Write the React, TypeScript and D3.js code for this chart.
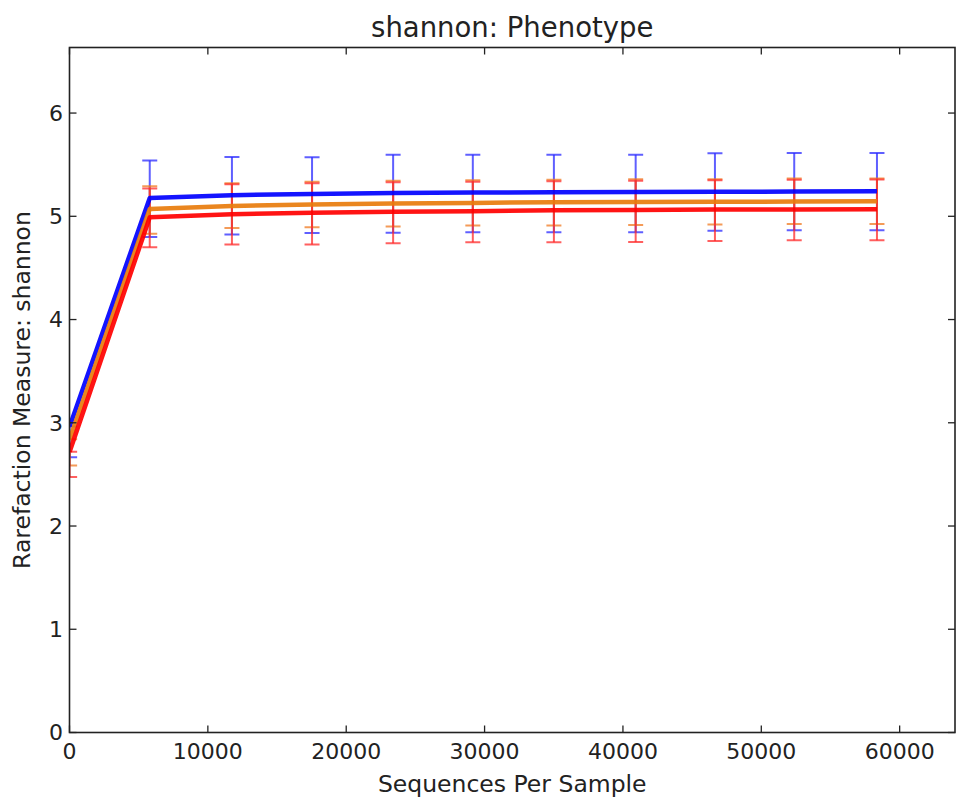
import React from "react";
import * as d3 from "d3";

const seqPerSample = [10, 5800, 11740, 17530, 23390, 29150, 35010, 40920, 46650, 52380, 58360];

const blueMean = [2.965, 5.178, 5.205, 5.215, 5.225, 5.23, 5.233, 5.235, 5.237, 5.24, 5.242];
const blueUpper = [2.965, 5.54, 5.575, 5.572, 5.595, 5.595, 5.595, 5.595, 5.61, 5.614, 5.614];
const blueLower = [2.665, 4.8, 4.823, 4.839, 4.84, 4.845, 4.845, 4.845, 4.86, 4.864, 4.864];

const orangeMean = [2.84, 5.07, 5.1, 5.115, 5.125, 5.13, 5.136, 5.138, 5.14, 5.143, 5.145];
const orangeUpper = [2.84, 5.29, 5.32, 5.335, 5.345, 5.35, 5.355, 5.36, 5.36, 5.365, 5.365];
const orangeLower = [2.587, 4.83, 4.887, 4.895, 4.9, 4.91, 4.91, 4.915, 4.92, 4.926, 4.926];

const redMean = [2.72, 4.99, 5.02, 5.035, 5.045, 5.05, 5.058, 5.062, 5.065, 5.067, 5.068];
const redUpper = [2.72, 5.27, 5.31, 5.32, 5.33, 5.335, 5.34, 5.345, 5.35, 5.355, 5.356];
const redLower = [2.475, 4.7, 4.726, 4.726, 4.74, 4.749, 4.749, 4.75, 4.76, 4.767, 4.767];

const xTicks = [0, 10000, 20000, 30000, 40000, 50000, 60000];
const yTicks = [0, 1, 2, 3, 4, 5, 6];

const series = [
  { name: "blue", color: "#0000ff", capColor: "#2a2aff", mean: blueMean, upper: blueUpper, lower: blueLower },
  { name: "orange", color: "#e87c0c", capColor: "#f07a20", mean: orangeMean, upper: orangeUpper, lower: orangeLower },
  { name: "red", color: "#ff0000", capColor: "#ff2a2a", mean: redMean, upper: redUpper, lower: redLower },
];

const W = 956;
const H = 804;
const L = 69.5;
const R = 955;
const T = 47.5;
const B = 732.5;
const FONT = "'DejaVu Sans', sans-serif";

export default function App() {
  const x = d3.scaleLinear().domain([0, 64000]).range([L, R]);
  const y = d3.scaleLinear().domain([0, 6.635]).range([B, T]);
  const line = d3
    .line<number>()
    .x((_, i) => x(seqPerSample[i]))
    .y((d) => y(d));
  const cap = 7.5;
  const tickLen = 7;

  React.useEffect(() => {
    document.body.style.margin = "0";
  }, []);

  return (
    <svg width={W} height={H} style={{ position: "absolute", left: 0, top: 0, background: "#fff" }} fontFamily={FONT}>
      <defs>
        <clipPath id="plotclip">
          <rect x={L} y={T} width={R - L} height={B - T} />
        </clipPath>
      </defs>
      <rect x={0} y={0} width={W} height={H} fill="#fff" />
      <g clipPath="url(#plotclip)">
        {series.map((s) => (
          <g key={s.name + "-err"} stroke={s.capColor} strokeOpacity={0.75} strokeWidth={2} fill="none">
            {seqPerSample.map((sx, i) => {
              const cx = x(sx);
              return (
                <g key={i}>
                  <line x1={cx} x2={cx} y1={y(s.upper[i])} y2={y(s.lower[i])} />
                  <line x1={cx - cap} x2={cx + cap} y1={y(s.upper[i])} y2={y(s.upper[i])} />
                  <line x1={cx - cap} x2={cx + cap} y1={y(s.lower[i])} y2={y(s.lower[i])} />
                </g>
              );
            })}
          </g>
        ))}
        {series.map((s) => (
          <path key={s.name} d={line(s.mean) || ""} fill="none" stroke={s.color} strokeWidth={4.5} strokeOpacity={0.92} strokeLinejoin="round" />
        ))}
      </g>
      <g stroke="#222" strokeWidth={1.3}>
        {xTicks.map((t) => (
          <g key={"xt" + t}>
            <line x1={x(t)} x2={x(t)} y1={B} y2={B - tickLen} />
            <line x1={x(t)} x2={x(t)} y1={T} y2={T + tickLen} />
          </g>
        ))}
        {yTicks.map((t) => (
          <g key={"yt" + t}>
            <line x1={L} x2={L + tickLen} y1={y(t)} y2={y(t)} />
            <line x1={R} x2={R - tickLen} y1={y(t)} y2={y(t)} />
          </g>
        ))}
      </g>
      <rect x={L} y={T} width={R - L} height={B - T} fill="none" stroke="#222" strokeWidth={1.6} />
      <g fontSize={22} fill="#222">
        {xTicks.map((t) => (
          <text key={"xl" + t} x={x(t)} y={759} textAnchor="middle">
            {t}
          </text>
        ))}
        {yTicks.map((t) => (
          <text key={"yl" + t} x={63} y={y(t)} dy="0.36em" textAnchor="end">
            {t}
          </text>
        ))}
      </g>
      <text x={(L + R) / 2} y={37} textAnchor="middle" fontSize={27.5} fill="#222">
        shannon: Phenotype
      </text>
      <text x={(L + R) / 2} y={792} textAnchor="middle" fontSize={23.5} fill="#222">
        Sequences Per Sample
      </text>
      <text
        transform={`translate(30, ${(T + B) / 2}) rotate(-90)`}
        textAnchor="middle"
        fontSize={23.5}
        fill="#222"
      >
        Rarefaction Measure: shannon
      </text>
    </svg>
  );
}
